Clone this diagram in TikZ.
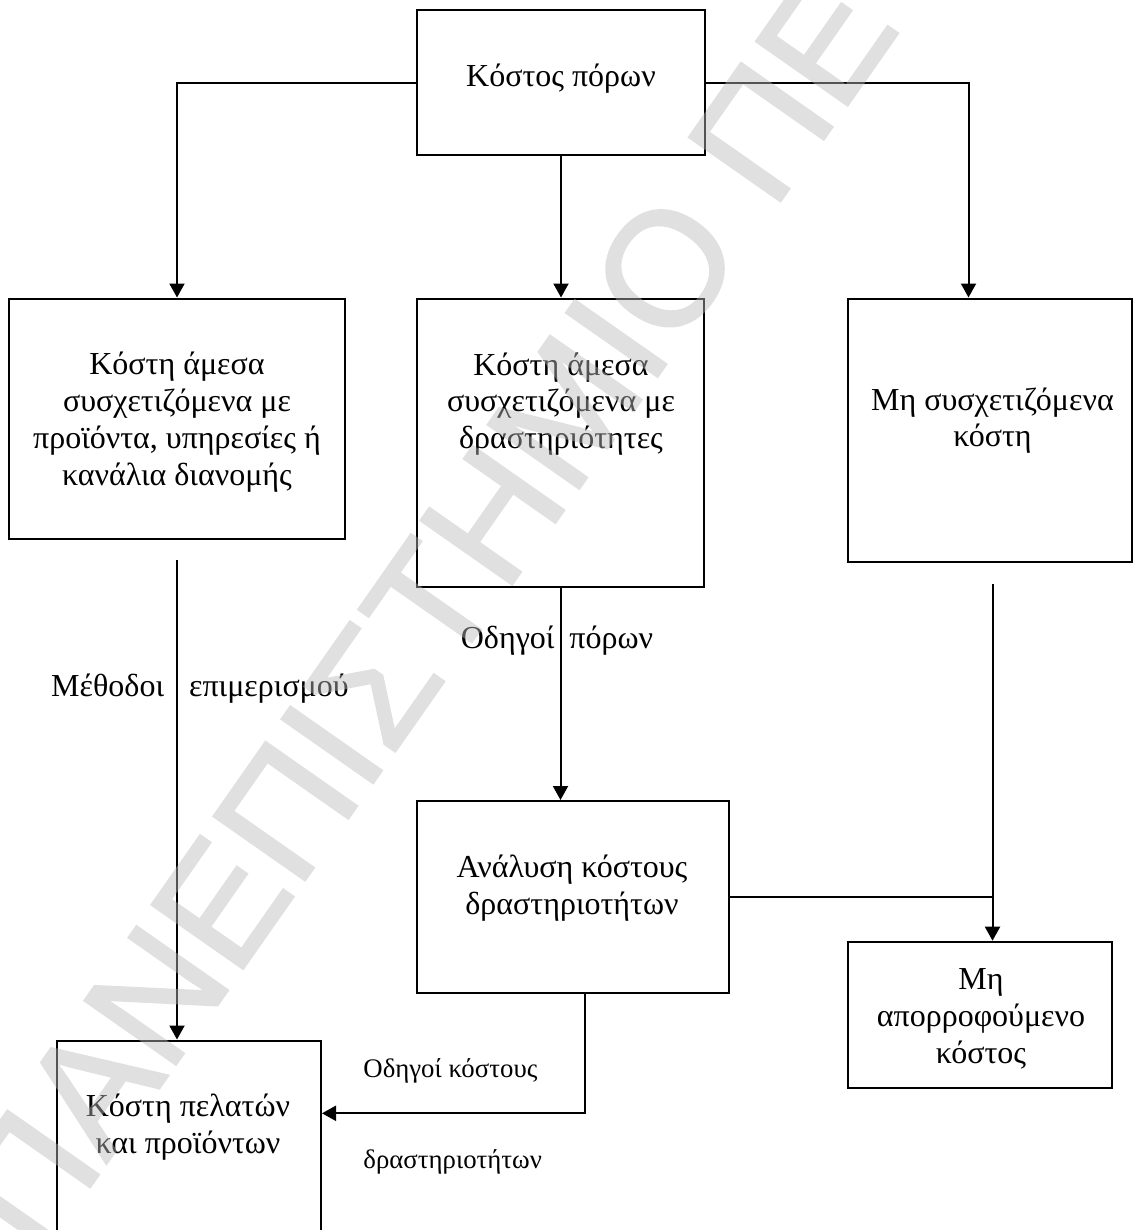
\documentclass[tikz,border=0pt]{standalone}
\usepackage{fontspec}
\setmainfont{Liberation Serif}
\newfontfamily\wmfont[FakeBold=1.5]{Liberation Sans}
\usetikzlibrary{arrows.meta}
\definecolor{wmgray}{gray}{0.73}
\begin{document}
\begin{tikzpicture}[x=0.5pt,y=-0.5pt,
  boxnode/.style={draw, line width=1pt, rectangle, inner sep=0pt},
  txt/.style={inner sep=0pt, align=center, font=\fontsize{16}{18.35}\selectfont},
  smalltxt/.style={inner sep=0pt, font=\fontsize{13.4}{15}\selectfont},
  conn/.style={line width=1pt},
  arr/.style={conn, -{Triangle[width=7.5pt,length=7pt]}},
  wm/.style={inner sep=0pt, text=wmgray, font=\wmfont\fontsize{81}{81}\selectfont}]
\useasboundingbox (0,0) rectangle (1133,1230);
% boxes
\node[boxnode, minimum width=144pt, minimum height=72.25pt] (top) at (561,82.75) {};
\node[boxnode, minimum width=168pt, minimum height=120.25pt] (L1) at (177,418.75) {};
\node[boxnode, minimum width=143.5pt, minimum height=144.25pt] (M1) at (560.5,442.75) {};
\node[boxnode, minimum width=141.75pt, minimum height=131.9pt] (R1) at (989.75,430.4) {};
\node[boxnode, minimum width=155.75pt, minimum height=96.15pt] (A) at (572.75,897.15) {};
\node[boxnode, minimum width=132.05pt, minimum height=73.3pt] (U) at (980.35,1015) {};
\node[boxnode, minimum width=132pt, minimum height=104.75pt] (C) at (189,1145.25) {};
% box texts (anchor base = baseline of the last line)
\node[txt, anchor=base] (ttop) at (561,87) {Κόστος πόρων};
\node[txt, anchor=base] (tL1) at (177,485) {Κόστη άμεσα\\συσχετιζόμενα με\\προϊόντα, υπηρεσίες ή\\κανάλια διανομής};
\node[txt, anchor=base] (tM1) at (561,448.4) {Κόστη άμεσα\\συσχετιζόμενα με\\δραστηριότητες};
\node[txt, anchor=base] (tR1) at (992.5,446.7) {Μη συσχετιζόμενα\\κόστη};
\node[txt, anchor=base] (tA) at (572,914) {Ανάλυση κόστους\\δραστηριοτήτων};
\node[txt, anchor=base] (tU) at (981,1063) {Μη\\απορροφούμενο\\κόστος};
\node[txt, anchor=base] (tC) at (188,1153) {Κόστη πελατών\\και προϊόντων};
% connector labels
\node[txt, anchor=base] (lmeth) at (200,696) {Μέθοδοι\hspace{12.5pt}επιμερισμού};
\node[txt, anchor=base] (lodig) at (557,648) {Οδηγοί\hspace{7.5pt}πόρων};
\node[smalltxt, anchor=base west] (lk1) at (363,1077) {Οδηγοί κόστους};
\node[smalltxt, anchor=base west] (lk2) at (363,1168) {δραστηριοτήτων};
% connectors
\coordinate (rturn) at (968.5,82.75);
\coordinate (lstart) at (177,559.5);
\coordinate (rstart) at (992.5,584);
\coordinate (aturn) at (584.8,1113.3);
\draw[arr] (top.west) -| (L1.north);
\draw[arr] (top.south) -- (top.south |- M1.north);
\draw[arr] (top.east) -- (rturn) -- (rturn |- R1.north);
\draw[arr] (lstart) -- (lstart |- C.north);
\draw[arr] (M1.south) -- (M1.south |- A.north);
\draw[arr] (rstart) -- (rstart |- U.north);
\draw[conn] (A.east) -- (A.east -| rstart);
\draw[arr] (aturn |- A.south) -- (aturn) -- (aturn -| C.east);
% watermark
\begin{scope}[transparency group, opacity=0.45]
\node[wm, rotate=55, anchor=base west] (wmark) at (39,1260) {ΠΑΝΕΠΙΣΤΗΜΙΟ ΠΕ};
\end{scope}
\end{tikzpicture}
\end{document}
